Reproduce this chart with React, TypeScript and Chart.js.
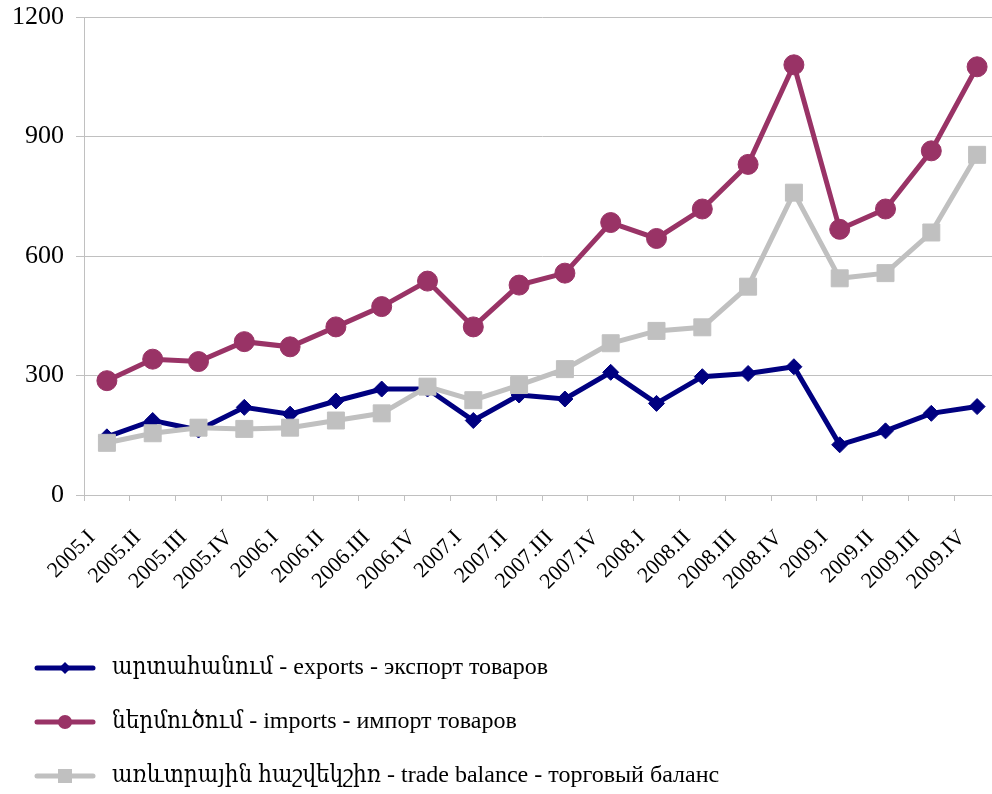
import React, { useEffect, useRef } from "react";
import { Chart, registerables } from "chart.js";

Chart.register(...registerables);

const categories = [
  "2005.I", "2005.II", "2005.III", "2005.IV",
  "2006.I", "2006.II", "2006.III", "2006.IV",
  "2007.I", "2007.II", "2007.III", "2007.IV",
  "2008.I", "2008.II", "2008.III", "2008.IV",
  "2009.I", "2009.II", "2009.III", "2009.IV",
];
const exportsValues = [146, 187, 163, 220, 203, 236, 266, 266, 187, 251, 241, 308, 230, 297, 305, 322, 126, 161, 205, 222];
const importsValues = [287, 341, 335, 385, 372, 422, 473, 537, 422, 527, 557, 684, 644, 718, 830, 1080, 667, 718, 864, 1075];
const balanceValues = [131, 155, 169, 166, 169, 187, 205, 272, 238, 276, 316, 381, 412, 421, 523, 759, 544, 557, 659, 854];
const yTicks = [0, 300, 600, 900, 1200];
const seriesLabels = [
  "արտահանում - exports - экспорт товаров",
  "ներմուծում - imports - импорт товаров",
  "առևտրային հաշվեկշիռ - trade balance - торговый баланс",
];

const NAVY = "#000080";
const PLUM = "#993366";
const SILVER = "#C0C0C0";
const SERIF = '"Liberation Serif", "Times New Roman", serif';
const LEGEND_FONT = '"Liberation Serif", "DejaVu Serif Condensed", "DejaVu Serif", serif';

function makeLegendIcon(color: string, kind: string): HTMLCanvasElement {
  const c = document.createElement("canvas");
  c.width = 62;
  c.height = 22;
  const ctx = c.getContext("2d")!;
  ctx.strokeStyle = color;
  ctx.fillStyle = color;
  ctx.lineWidth = 5;
  ctx.lineCap = "round";
  ctx.beginPath();
  ctx.moveTo(3, 11);
  ctx.lineTo(59, 11);
  ctx.stroke();
  ctx.beginPath();
  if (kind === "diamond") {
    ctx.moveTo(31, 5);
    ctx.lineTo(37, 11);
    ctx.lineTo(31, 17);
    ctx.lineTo(25, 11);
    ctx.closePath();
  } else if (kind === "circle") {
    ctx.arc(31, 11, 7, 0, Math.PI * 2);
  } else {
    ctx.rect(24, 4, 14, 14);
  }
  ctx.fill();
  return c;
}

export default function App() {
  const ref = useRef<HTMLCanvasElement>(null);

  useEffect(() => {
    const icons = [
      makeLegendIcon(NAVY, "diamond"),
      makeLegendIcon(PLUM, "circle"),
      makeLegendIcon(SILVER, "square"),
    ];
    const colors = [NAVY, PLUM, SILVER];
    const chart = new Chart(ref.current!, {
      type: "line",
      data: {
        labels: categories,
        datasets: [
          {
            label: seriesLabels[0],
            data: exportsValues,
            borderColor: NAVY,
            backgroundColor: NAVY,
            borderWidth: 5,
            pointStyle: "rectRot",
            pointRadius: 8,
            pointBorderWidth: 1,
            pointBackgroundColor: NAVY,
            tension: 0,
            order: 3,
          },
          {
            label: seriesLabels[1],
            data: importsValues,
            borderColor: PLUM,
            backgroundColor: PLUM,
            borderWidth: 5,
            pointStyle: "circle",
            pointRadius: 10,
            pointBorderWidth: 1,
            pointBackgroundColor: PLUM,
            tension: 0,
            order: 2,
          },
          {
            label: seriesLabels[2],
            data: balanceValues,
            borderColor: SILVER,
            backgroundColor: SILVER,
            borderWidth: 5,
            pointStyle: "rect",
            pointRadius: 12,
            pointBorderWidth: 1,
            pointBackgroundColor: SILVER,
            tension: 0,
            order: 1,
          },
        ],
      },
      options: {
        responsive: true,
        maintainAspectRatio: false,
        animation: false,
        layout: { padding: { top: 17, right: 4, left: 0, bottom: 0 } },
        scales: {
          x: {
            offset: true,
            grid: {
              offset: true,
              drawOnChartArea: false,
              drawTicks: true,
              tickLength: 6,
              color: "#c0c0c0",
            },
            border: { display: true, color: "#c0c0c0" },
            ticks: {
              minRotation: 45,
              maxRotation: 45,
              autoSkip: false,
              padding: 24,
              labelOffset: -15,
              color: "#000",
              font: { family: SERIF, size: 22 },
            },
            afterFit: (s: any) => {
              s.height = 131;
              s.paddingLeft = 0;
              s.paddingRight = 0;
            },
          },
          y: {
            min: 0,
            max: 1200,
            afterBuildTicks: (s: any) => {
              s.ticks = yTicks.map((v) => ({ value: v }));
            },
            grid: {
              color: "#c0c0c0",
              tickLength: 8,
              drawTicks: true,
            },
            border: { display: true, color: "#c0c0c0" },
            ticks: {
              padding: 12,
              color: "#000",
              font: { family: SERIF, size: 26 },
              callback: (v: any) => String(v),
            },
            afterFit: (s: any) => {
              s.width = 84;
              s.paddingTop = 0;
              s.paddingBottom = 0;
            },
          },
        },
        plugins: {
          tooltip: { enabled: false },
          legend: {
            position: "bottom",
            align: "start",
            labels: {
              usePointStyle: true,
              pointStyleWidth: 70,
              padding: 30,
              color: "#000",
              font: { family: LEGEND_FONT, size: 24 },
              generateLabels: (ch: any) =>
                ch.data.datasets.map((ds: any, i: number) => ({
                  text: ds.label,
                  fillStyle: colors[i],
                  strokeStyle: colors[i],
                  lineWidth: 0,
                  pointStyle: icons[i],
                  rotation: 0,
                  hidden: false,
                  datasetIndex: i,
                  fontColor: "#000",
                })),
            },
          },
        },
      },
    });
    return () => chart.destroy();
  }, []);

  return (
    <div
      style={{
        position: "fixed",
        left: 0,
        top: 0,
        width: 992,
        height: 794,
        overflow: "hidden",
        background: "#fff",
      }}
    >
      <div style={{ position: "absolute", left: 0, top: 0, width: 1013, height: 798 }}>
        <canvas ref={ref} />
      </div>
    </div>
  );
}
